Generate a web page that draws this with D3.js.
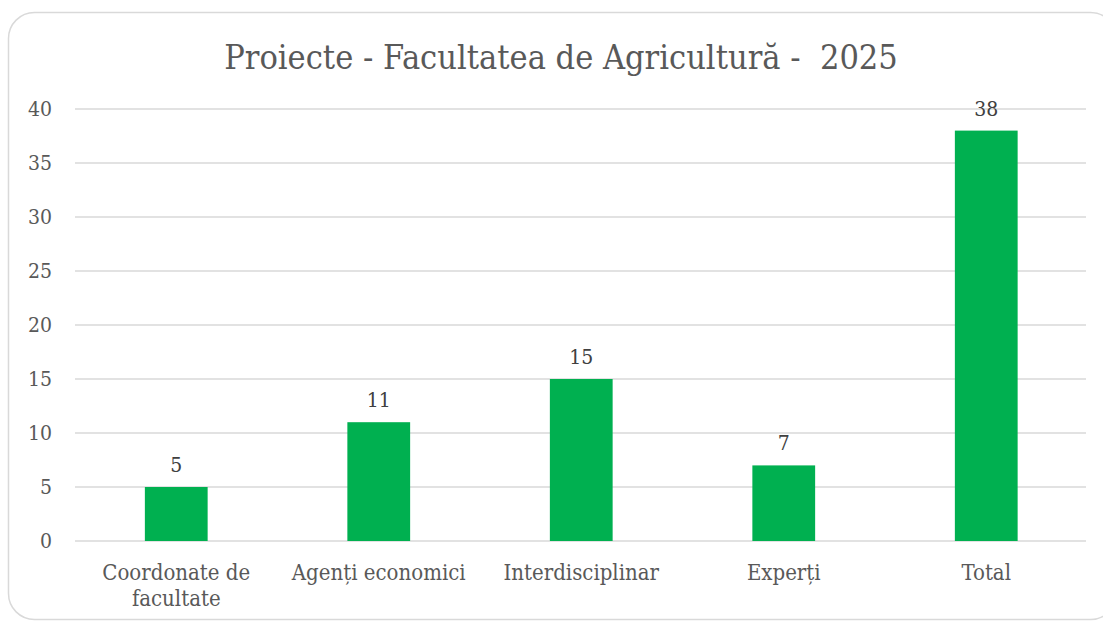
<!DOCTYPE html>
<html><head><meta charset="utf-8">
<script src="https://cdn.jsdelivr.net/npm/d3@7"></script>
<style>
html,body{margin:0;padding:0;background:#fff;}
svg{display:block;}
text{font-family:"DejaVu Serif Condensed","DejaVu Serif",serif;fill:#595959;white-space:pre;}
</style></head><body>
<svg id="c" width="1103" height="622"></svg>
<script>
const categories = ["Coordonate de facultate", "Agenți economici", "Interdisciplinar", "Experți", "Total"];
const categoryLines = [["Coordonate de", "facultate"], ["Agenți economici"], ["Interdisciplinar"], ["Experți"], ["Total"]];
const values = [5, 11, 15, 7, 38];
const yTicks = [0, 5, 10, 15, 20, 25, 30, 35, 40];
const title = "Proiecte - Facultatea de Agricultură -  2025";

const svg = d3.select("#c");
svg.append("rect").attr("x", 8.5).attr("y", 12.5).attr("width", 1108).attr("height", 607)
  .attr("rx", 26).attr("fill", "#fff").attr("stroke", "#d9d9d9").attr("stroke-width", 1.5);

const x = d3.scaleBand().domain(categories).range([75, 1087.5]).paddingInner(0.69).paddingOuter(0.345);
const y = d3.scaleLinear().domain([0, 40]).range([541, 109]);

svg.append("g").selectAll("line").data(yTicks).join("line")
  .attr("x1", 75).attr("x2", 1086).attr("y1", d => y(d)).attr("y2", d => y(d))
  .attr("stroke", "#d9d9d9").attr("stroke-width", 1.5);

svg.append("g").selectAll("text").data(yTicks).join("text")
  .attr("x", 52).attr("y", d => y(d) + 7).attr("text-anchor", "end")
  .attr("font-size", 21).text(d => d);

svg.append("g").selectAll("rect").data(values).join("rect")
  .attr("x", (d, i) => x(categories[i])).attr("width", x.bandwidth())
  .attr("y", d => y(d)).attr("height", d => y(0) - y(d)).attr("fill", "#00b050");

svg.append("g").selectAll("text").data(values).join("text")
  .attr("x", (d, i) => x(categories[i]) + x.bandwidth() / 2).attr("y", d => y(d) - 15)
  .attr("text-anchor", "middle").attr("font-size", 21).style("fill", "#404040").text(d => d);

const lab = svg.append("g").selectAll("text").data(categoryLines).join("text")
  .attr("text-anchor", "middle").attr("font-size", 22)
  .attr("transform", (d, i) => `translate(${x(categories[i]) + x.bandwidth() / 2},580)`);
lab.selectAll("tspan").data(d => d).join("tspan")
  .attr("x", 0).attr("dy", (d, j) => j === 0 ? 0 : 26).text(d => d);

svg.append("text").attr("x", 561).attr("y", 69).attr("text-anchor", "middle")
  .attr("font-size", 34).text(title);
</script>
</body></html>
